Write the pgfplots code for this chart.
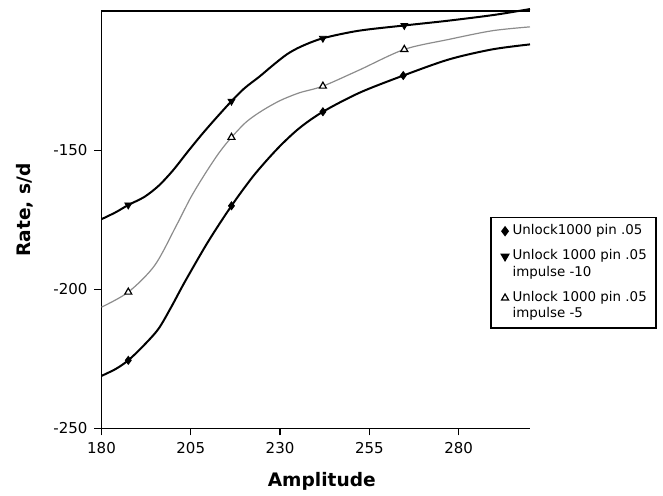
\documentclass[border=0pt]{standalone}
\usepackage{fontspec}
\setmainfont{DejaVu Sans}
\usepackage{pgfplots}
\pgfplotsset{compat=1.18}
\pgfplotsset{
  plainimg/.style={legend image code/.code={\path[draw=none,fill=none] (0cm,0cm) -- (0.2cm,0cm); \draw[##1] plot coordinates {(0.16cm,0cm)};}},
  shiftimg/.style={legend image code/.code={\path[draw=none,fill=none] (0cm,0cm) -- (0.2cm,0cm); \draw[##1] plot coordinates {(0.16cm,4.1pt)};}},
}
\begin{document}
\begin{tikzpicture}
\useasboundingbox (-50.75pt,-33.75pt) rectangle (280.75pt,214.25pt);
\begin{axis}[
  scale only axis, width=214.25pt, height=208.75pt,
  xmin=180, xmax=300, ymin=-250, ymax=-100,
  axis x line*=bottom, axis y line*=left,
  xtick={180,205,230,255,280}, ytick={-250,-200,-150},
  tick align=outside, major tick length=3.5pt,
  tick style={black, line width=0.6pt},
  axis line style={line width=0.8pt, -},
  ticklabel style={font=\fontsize{7.5}{9}\selectfont},
  /pgf/number format/assume math mode=true,
  xlabel={Amplitude}, ylabel={Rate, s/d},
  label style={font=\fontsize{9.3}{11}\selectfont\bfseries},
  xlabel style={at={(axis description cs:0.514,-0.126)}, anchor=center},
  ylabel style={at={(axis description cs:-0.1785,0.523)}, anchor=center},
  legend style={at={(axis description cs:0.907,0.507)}, anchor=north west,
    draw=black, line width=0.8pt, fill=white,
    font=\fontsize{6.7}{8.2}\selectfont, cells={align=left},
    inner xsep=2.5pt, inner ysep=1.5pt, row sep=2pt},
  legend cell align=left,
  clip=false,
]
\draw[line width=0.8pt] (rel axis cs:0,1) -- (rel axis cs:1,1);
% lines
\addplot[black, line width=1pt, smooth, forget plot] coordinates {
 (180,-231.1) (184,-228.6) (187.5,-225.5) (191.5,-220.6) (195.9,-214.3)
 (199.6,-206.2) (203.3,-197.4) (209.8,-183.0) (216.4,-170.0) (222.7,-159.0)
 (229.4,-149.3) (235.4,-142.1) (242,-136.2) (252.2,-129.4) (264.5,-123.2)
 (277.3,-117.4) (289.4,-113.8) (300,-112.0)};
\addplot[black, line width=1pt, smooth, forget plot] coordinates {
 (180,-174.8) (184,-172.3) (187.5,-169.7) (192,-166.8) (196,-162.8)
 (200,-157.3) (204,-150.8) (208,-144.5) (212,-138.6) (216.4,-132.4)
 (220,-127.8) (224.3,-123.5) (228,-119.5) (232,-115.5) (236,-112.7)
 (242,-109.8) (252,-107.1) (264.8,-105.2) (277,-103.5) (290,-101.4) (300,-99.3)};
\addplot[black!45, line width=0.6pt, smooth, forget plot] coordinates {
 (180,-206.4) (187.5,-201.0) (194.9,-191.4) (201,-177.0) (205,-167.0)
 (209,-158.5) (213,-150.8) (216.4,-145.4) (220.6,-139.8) (225,-135.8)
 (230,-132.2) (235.4,-129.4) (242,-127.0) (252.2,-121.2) (264.8,-113.8)
 (277.3,-110.2) (289.4,-107.1) (300,-105.7)};
% markers
\addplot[only marks, mark=diamond*, mark size=2pt, black, plainimg] coordinates {
 (187.5,-225.5) (216.4,-170.0) (242,-136.2) (264.5,-123.2)};
\addlegendentry{Unlock1000 pin .05}
\addplot[only marks, mark=triangle*, mark size=2pt, black, mark options={rotate=180}, shiftimg] coordinates {
 (187.5,-169.7) (216.4,-132.4) (242,-109.8) (264.8,-105.2)};
\addlegendentry{Unlock 1000 pin .05\\impulse -10}
\addplot[only marks, mark=triangle*, mark size=2pt, black, mark options={fill=white, line width=0.6pt}, shiftimg] coordinates {
 (187.5,-201.0) (216.4,-145.4) (242,-127.0) (264.8,-113.8)};
\addlegendentry{Unlock 1000 pin .05\\impulse -5}
\end{axis}
\end{tikzpicture}
\end{document}
